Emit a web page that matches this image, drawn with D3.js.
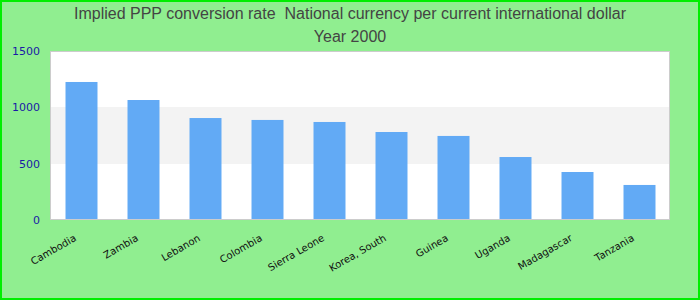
<!DOCTYPE html>
<html><head><meta charset="utf-8">
<script src="https://cdn.jsdelivr.net/npm/d3@7"></script>
<style>body{margin:0;}svg{display:block;}</style>
</head><body>
<script>
const categories = ["Cambodia","Zambia","Lebanon","Colombia","Sierra Leone","Korea, South","Guinea","Uganda","Madagascar","Tanzania"];
const values = [1225,1065,905,888,870,781,746,559,426,311];
const yTicks = [0,500,1000,1500];
const titleLines = ["Implied PPP conversion rate  National currency per current international dollar","Year 2000"];

const W=700,H=300, m={l:50,r:30,t:51,b:80};
const svg=d3.select("body").append("svg").attr("width",W).attr("height",H);
svg.append("rect").attr("x",1).attr("y",1).attr("width",W-2).attr("height",H-2)
  .attr("fill","#90ee90").attr("stroke","#00ee00").attr("stroke-width",2);

const x=d3.scaleBand().domain(categories).range([m.l,W-m.r]).padding(0);
const y=d3.scaleLinear().domain([0,1500]).range([H-m.b,m.t]);

const bands=[[0,500,"#ffffff"],[500,1000,"#f3f3f3"],[1000,1500,"#ffffff"]];
svg.selectAll("rect.band").data(bands).enter().append("rect")
  .attr("x",m.l).attr("width",W-m.r-m.l)
  .attr("y",d=>Math.round(y(d[1]))).attr("height",d=>Math.round(y(d[0]))-Math.round(y(d[1]))).attr("fill",d=>d[2]);

const bw=x.bandwidth()*0.516;
svg.selectAll("rect.bar").data(values).enter().append("rect")
  .attr("x",(d,i)=>x(categories[i])+x.bandwidth()/2-bw/2+0.5)
  .attr("width",bw)
  .attr("y",d=>y(d)).attr("height",d=>y(0)-y(d)).attr("fill","#62aaf5");

svg.append("rect").attr("x",m.l+0.5).attr("y",m.t+0.5).attr("width",W-m.r-m.l-1).attr("height",H-m.b-m.t-1)
  .attr("fill","none").attr("stroke","#cccccc");

const ya=svg.append("g").attr("transform",`translate(${m.l-10},0)`)
  .call(d3.axisLeft(y).tickValues(yTicks).tickFormat(d3.format("d")).tickSize(0).tickPadding(0));
ya.select(".domain").remove();
ya.selectAll("text").attr("fill","#1a1aa6").style("font-family","DejaVu Sans").style("font-size","11px");

const xa=svg.append("g").attr("transform",`translate(0,${H-m.b})`)
  .call(d3.axisBottom(x).tickSize(0).tickPadding(0));
xa.select(".domain").remove();
xa.selectAll("text").attr("fill","#111").style("font-family","DejaVu Sans").style("font-size","10px")
  .attr("text-anchor","end").attr("dy",null).attr("y",0)
  .attr("transform","translate(-4,20) rotate(-30)");

svg.append("g").selectAll("text").data(titleLines).enter().append("text")
  .attr("x",W/2).attr("y",(d,i)=>19+i*23).attr("text-anchor","middle")
  .style("white-space","pre")
  .style("font-family","Liberation Sans").style("font-size","16px")
  .attr("fill","#444").text(d=>d);
</script>
</body></html>
